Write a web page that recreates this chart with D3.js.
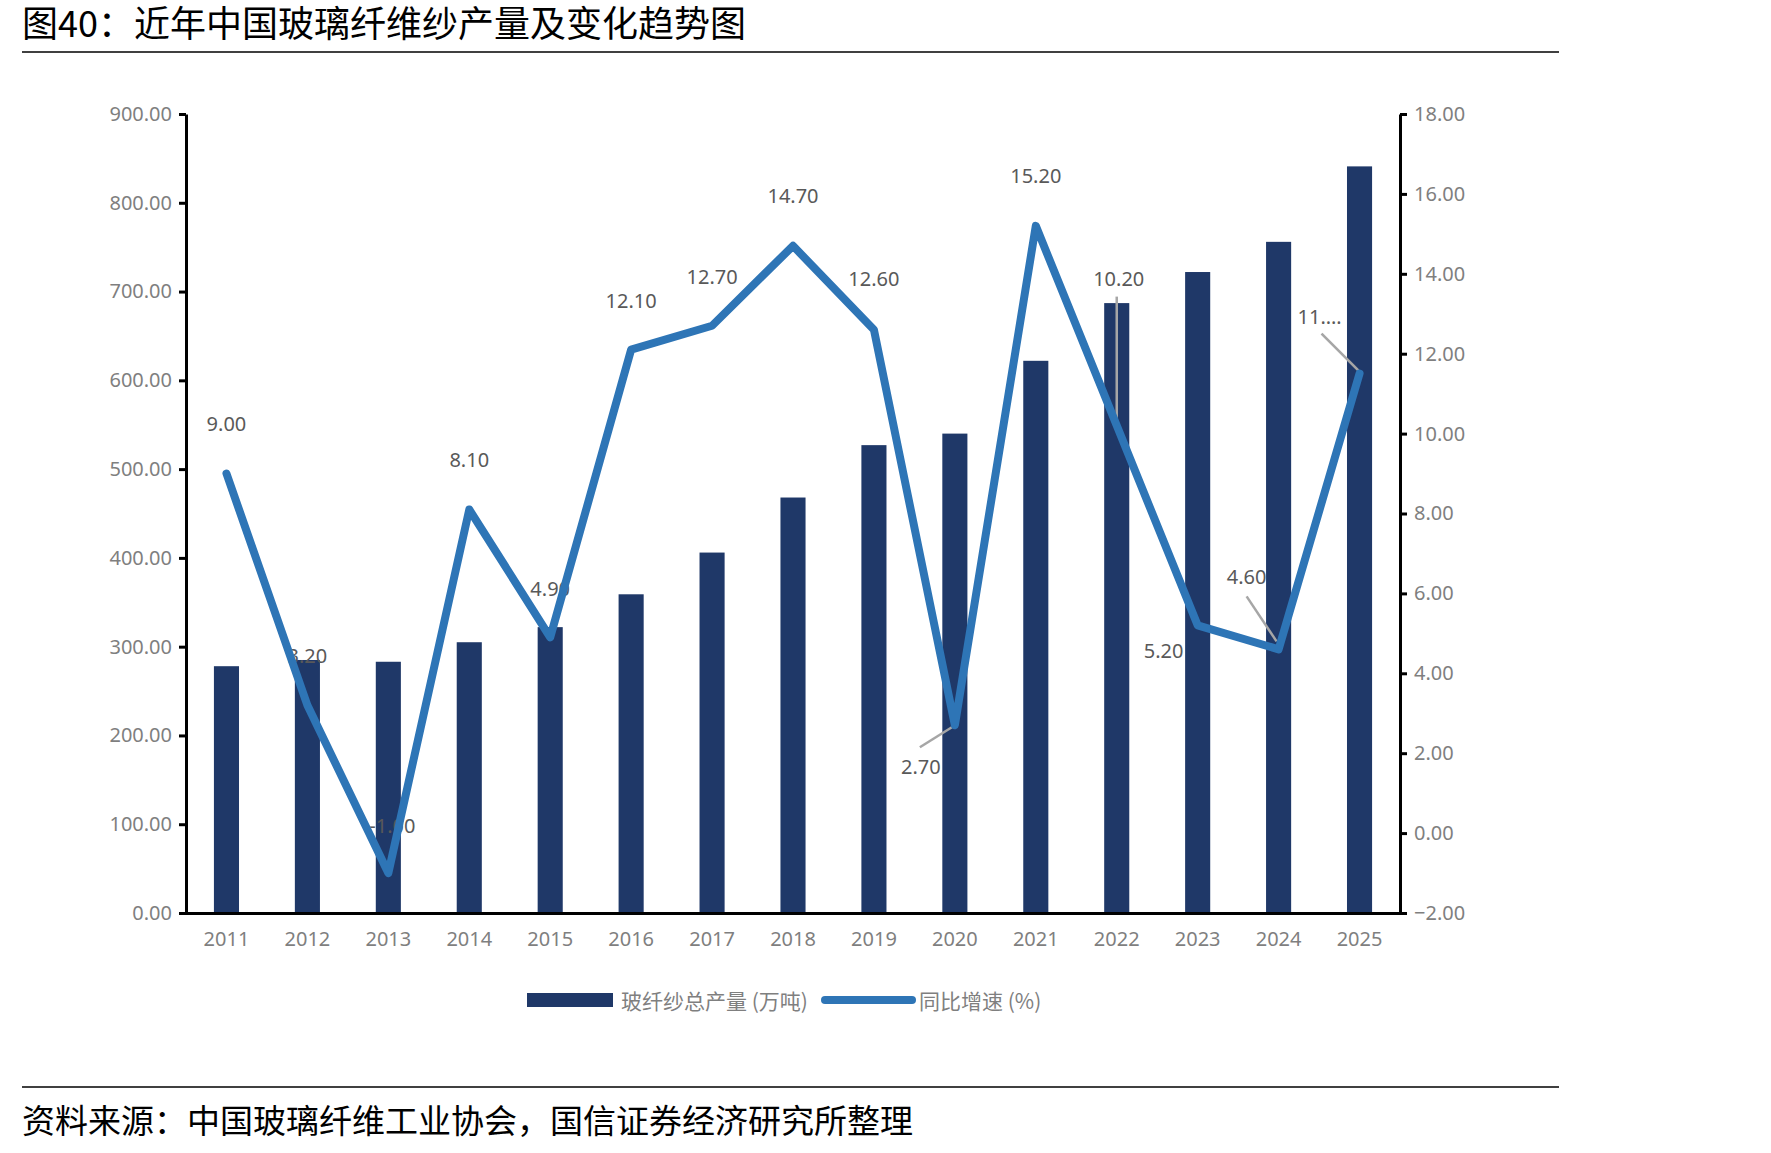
<!DOCTYPE html>
<html>
<head>
<meta charset="utf-8">
<script src="https://cdn.jsdelivr.net/npm/d3@7/dist/d3.min.js"></script>
<style>
  body { margin: 0; background: #fff; }
  svg { display: block; }
  .tick text { font-family: 'Noto Sans', sans-serif; font-size: 20px; fill: #7f7f7f; }
  .axis .domain, .axis .tick line { stroke: #000; stroke-width: 3; }
  .data-label { font-family: 'Noto Sans', sans-serif; font-size: 20px; fill: #595959; }
  .legend-text { font-family: 'Noto Sans CJK SC', sans-serif; font-size: 21px; fill: #7f7f7f; }
  .title, .source { font-family: 'Noto Sans CJK SC', sans-serif; fill: #000; }
</style>
</head>
<body>
<svg width="1771" height="1153"></svg>
<script>
// data
const years = ['2011', '2012', '2013', '2014', '2015', '2016', '2017', '2018',
  '2019', '2020', '2021', '2022', '2023', '2024', '2025'];
const output = [278, 285, 283, 305, 322, 359, 406, 468, 527, 540, 622, 687, 722, 756, 841]; // 万吨
const growth = [9.0, 3.2, -1.0, 8.1, 4.9, 12.1, 12.7, 14.7, 12.6, 2.7, 15.2, 10.2, 5.2, 4.6, 11.5]; // %
const growthLabels = ['9.00', '3.20', '-1.00', '8.10', '4.90', '12.10', '12.70', '14.70',
  '12.60', '2.70', '15.20', '10.20', '5.20', '4.60', '11.…'];
const leftTicks = [0, 100, 200, 300, 400, 500, 600, 700, 800, 900];
const rightTicks = [-2, 0, 2, 4, 6, 8, 10, 12, 14, 16, 18];

const title = '图40：近年中国玻璃纤维纱产量及变化趋势图';
const source = '资料来源：中国玻璃纤维工业协会，国信证券经济研究所整理';
const barName = '玻纤纱总产量 (万吨)';
const lineName = '同比增速 (%)';

// where each data label sits relative to its point, plus optional leader line
const labelLayout = [
  { dx: 0, dy: -50 }, { dx: 0, dy: -50 }, { dx: 4, dy: -48 }, { dx: 0, dy: -50 },
  { dx: 0, dy: -49 }, { dx: 0, dy: -49 }, { dx: 0, dy: -49 }, { dx: 0, dy: -50 },
  { dx: 0, dy: -51 },
  { dx: -34, dy: 41, leader: [-35, 22, -3, 2] },
  { dx: 0, dy: -50 },
  { dx: 2, dy: -147, leader: [0, -129, 0, 0] },
  { dx: -34, dy: 25 },
  { dx: -32, dy: -73, leader: [-32, -53, -2, -8] },
  { dx: -40, dy: -57, leader: [-38, -40, -1, -3] }
];

const svg = d3.select('svg');
const width = +svg.attr('width');
const height = +svg.attr('height');

const margin = { top: 114, right: 371, bottom: 240, left: 186 };
const innerWidth = width - margin.left - margin.right;
const innerHeight = height - margin.top - margin.bottom;

const data = years.map((year, i) => ({
  year, output: output[i], growth: growth[i], label: growthLabels[i], layout: labelLayout[i]
}));

// title + rules
svg.append('text')
  .attr('class', 'title')
  .attr('x', 22)
  .attr('y', 37)
  .style('font-size', '36px')
  .text(title);
svg.append('line')
  .attr('x1', 22).attr('x2', 1559)
  .attr('y1', 52).attr('y2', 52)
  .attr('stroke', '#000').attr('stroke-width', 1.5);
svg.append('line')
  .attr('x1', 22).attr('x2', 1559)
  .attr('y1', 1087).attr('y2', 1087)
  .attr('stroke', '#000').attr('stroke-width', 1.5);
svg.append('text')
  .attr('class', 'source')
  .attr('x', 22)
  .attr('y', 1133)
  .style('font-size', '33px')
  .text(source);

const xScale = d3.scaleBand()
  .domain(years)
  .range([0, innerWidth])
  .paddingInner(0.69)
  .paddingOuter(0.345);

const yLeft = d3.scaleLinear()
  .domain([0, 900])
  .range([innerHeight, 0]);

const yRight = d3.scaleLinear()
  .domain([-2, 18])
  .range([innerHeight, 0]);

const g = svg.append('g')
  .attr('transform', `translate(${margin.left}, ${margin.top})`);

// bars
g.selectAll('rect.bar').data(data)
  .enter().append('rect')
    .attr('class', 'bar')
    .attr('x', d => xScale(d.year))
    .attr('width', xScale.bandwidth())
    .attr('y', d => yLeft(d.output))
    .attr('height', d => innerHeight - yLeft(d.output))
    .attr('fill', '#1f3868');

// axes
const leftAxis = d3.axisLeft(yLeft)
  .tickValues(leftTicks)
  .tickFormat(d3.format('.2f'))
  .tickSize(7)
  .tickSizeOuter(0)
  .tickPadding(7);
g.append('g').attr('class', 'axis').call(leftAxis);

const rightAxis = d3.axisRight(yRight)
  .tickValues(rightTicks)
  .tickFormat(d3.format('.2f'))
  .tickSize(7)
  .tickSizeOuter(0)
  .tickPadding(7);
g.append('g').attr('class', 'axis')
  .attr('transform', `translate(${innerWidth}, 0)`)
  .call(rightAxis);

const bottomAxis = d3.axisBottom(xScale)
  .tickSize(0)
  .tickSizeOuter(0)
  .tickPadding(19);
const bottomGroup = g.append('g').attr('class', 'axis')
  .attr('transform', `translate(0, ${innerHeight})`)
  .call(bottomAxis);
bottomGroup.select('.domain').attr('stroke-linecap', 'square');

const cx = d => xScale(d.year) + xScale.bandwidth() / 2;

// leader lines
g.selectAll('line.leader').data(data.filter(d => d.layout.leader))
  .enter().append('line')
    .attr('class', 'leader')
    .attr('x1', d => cx(d) + d.layout.leader[0])
    .attr('y1', d => yRight(d.growth) + d.layout.leader[1])
    .attr('x2', d => cx(d) + d.layout.leader[2])
    .attr('y2', d => yRight(d.growth) + d.layout.leader[3])
    .attr('stroke', '#a6a6a6')
    .attr('stroke-width', 2.5);

// data labels
g.selectAll('text.data-label').data(data)
  .enter().append('text')
    .attr('class', 'data-label')
    .attr('x', d => cx(d) + d.layout.dx)
    .attr('y', d => yRight(d.growth) + d.layout.dy)
    .attr('text-anchor', 'middle')
    .attr('dominant-baseline', 'central')
    .text(d => d.label);

// growth line
const lineGenerator = d3.line()
  .x(cx)
  .y(d => yRight(d.growth));

g.append('path')
  .attr('d', lineGenerator(data))
  .attr('fill', 'none')
  .attr('stroke', '#2e75b6')
  .attr('stroke-width', 8)
  .attr('stroke-linejoin', 'round')
  .attr('stroke-linecap', 'round');

// legend
const legend = svg.append('g').attr('transform', 'translate(527, 1000)');
legend.append('rect')
  .attr('x', 0).attr('y', -7)
  .attr('width', 86).attr('height', 14)
  .attr('fill', '#1f3868');
legend.append('text')
  .attr('class', 'legend-text')
  .attr('x', 94).attr('y', 0)
  .attr('dominant-baseline', 'central')
  .text(barName);
legend.append('line')
  .attr('x1', 298).attr('x2', 385)
  .attr('y1', 0).attr('y2', 0)
  .attr('stroke', '#2e75b6')
  .attr('stroke-width', 8)
  .attr('stroke-linecap', 'round');
legend.append('text')
  .attr('class', 'legend-text')
  .attr('x', 392).attr('y', 0)
  .attr('dominant-baseline', 'central')
  .text(lineName);
</script>
</body>
</html>
